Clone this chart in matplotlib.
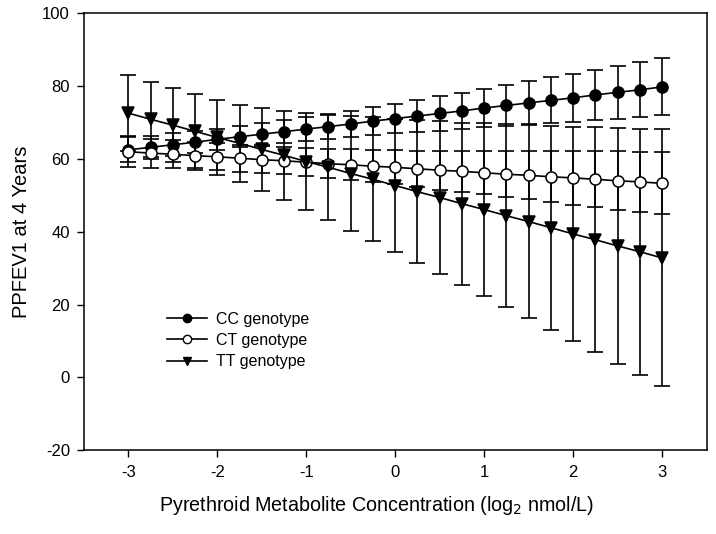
import numpy as np
import matplotlib.pyplot as plt
from matplotlib.lines import Line2D

plt.rcParams['font.family'] = ['Liberation Sans', 'DejaVu Sans']
plt.rcParams['axes.unicode_minus'] = False

conc = [-3, -2.75, -2.5, -2.25, -2, -1.75, -1.5, -1.25, -1, -0.75, -0.5, -0.25, 0,
        0.25, 0.5, 0.75, 1, 1.25, 1.5, 1.75, 2, 2.25, 2.5, 2.75, 3]

cc_mean = [62.5, 63.2, 63.9, 64.6, 65.4, 66.1, 66.8, 67.5, 68.2, 68.9, 69.6, 70.4, 71.1,
           71.8, 72.5, 73.2, 74.0, 74.7, 75.4, 76.1, 76.8, 77.6, 78.3, 79.0, 79.8]
cc_err = [3.4, 3.2, 3.1, 3.0, 2.9, 2.9, 3.0, 3.1, 3.2, 3.4, 3.6, 3.9, 4.1,
          4.4, 4.7, 5.0, 5.3, 5.6, 5.9, 6.3, 6.6, 6.9, 7.2, 7.5, 7.8]

ct_mean = [62.0, 61.6, 61.3, 60.9, 60.6, 60.2, 59.8, 59.5, 59.1, 58.7, 58.4, 58.0, 57.7,
           57.3, 56.9, 56.6, 56.2, 55.8, 55.5, 55.1, 54.8, 54.4, 54.0, 53.7, 53.3]
ct_err = [4.2, 4.0, 3.9, 3.8, 3.7, 3.7, 3.7, 3.7, 3.8, 4.0, 4.2, 4.4, 4.7,
          5.0, 5.3, 5.6, 5.9, 6.3, 6.6, 7.0, 7.4, 7.7, 8.1, 8.3, 8.5]

tt_mean = [72.6, 70.9, 69.3, 67.6, 65.9, 64.3, 62.6, 61.0, 59.3, 57.7, 56.0, 54.4, 52.7,
           51.0, 49.4, 47.7, 46.1, 44.4, 42.8, 41.1, 39.4, 37.8, 36.1, 34.5, 32.8]
tt_err = [10.5, 10.3, 10.2, 10.2, 10.3, 10.6, 11.4, 12.3, 13.2, 14.4, 15.7, 17.0, 18.3,
          19.6, 21.0, 22.3, 23.7, 25.1, 26.5, 28.0, 29.4, 30.9, 32.4, 33.8, 35.3]

fig = plt.figure(figsize=(7.16, 5.34), dpi=100)
ax = fig.add_axes([0.117, 0.157, 0.87, 0.818])

series = [
    ("CC genotype", cc_mean, cc_err, 'o', 'black'),
    ("CT genotype", ct_mean, ct_err, 'o', 'white'),
    ("TT genotype", tt_mean, tt_err, 'v', 'black'),
]

handles = []
for name, m, e, mk, fc in series:
    ax.errorbar(conc, m, yerr=e, fmt='none', ecolor='black', elinewidth=1.2,
                capsize=6, capthick=1.2, zorder=2)
    ax.plot(conc, m, color='black', lw=1.2, marker=mk, markersize=8,
            markerfacecolor=fc, markeredgecolor='black', markeredgewidth=1.1, zorder=3)
    handles.append(Line2D([], [], color='black', lw=1.2, marker=mk, markersize=6,
                          markerfacecolor=fc, markeredgecolor='black', label=name))

ax.set_xlim(-3.5, 3.5)
ax.set_ylim(-20, 100)
ax.set_xticks([-3, -2, -1, 0, 1, 2, 3])
ax.set_yticks([-20, 0, 20, 40, 60, 80, 100])
ax.tick_params(direction='out', length=5, width=1, labelsize=12, top=False, right=False)
ax.tick_params(axis='x', pad=6)
ax.tick_params(axis='y', pad=5)
for s in ax.spines.values():
    s.set_linewidth(1.1)

ax.set_xlabel('Pyrethroid Metabolite Concentration (log$_2$ nmol/L)', fontsize=14.2)
ax.xaxis.set_label_coords(0.47, -0.1)
ax.set_ylabel('PPFEV1 at 4 Years', fontsize=14.5, labelpad=8)

ax.legend(handles=handles, loc='upper left', bbox_to_anchor=(0.11, 0.35), frameon=False,
          fontsize=11.5, handlelength=2.5, labelspacing=0.4, handletextpad=0.6)

fig.savefig('out.png', dpi=100)
